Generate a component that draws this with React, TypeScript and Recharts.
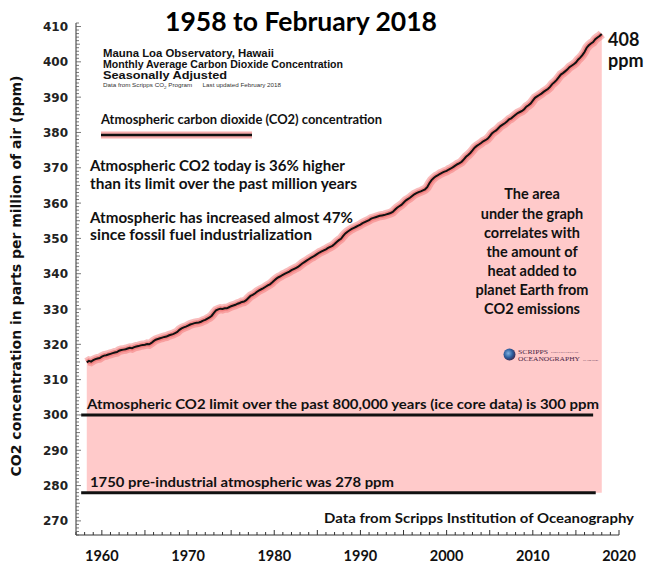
import { ComposedChart, Area, Line, XAxis, YAxis, ReferenceLine } from "recharts";

// Mauna Loa CO2, seasonally adjusted in quarter-year steps from 1958.25
const START_YEAR = 1958.25;
const ppm1950s = [
  314.9, 315.3, 315.1,
  315.5, 315.8, 316.0, 316.1,
];
const ppm1960s = [
  316.5, 316.8, 316.9, 317.1, 317.3, 317.5, 317.7, 317.8, 318.2, 318.4, 318.5, 318.6,
  318.8, 319.0, 318.9, 319.2, 319.4, 319.5, 319.7, 319.8, 319.9, 320.1, 320.0, 320.4,
  320.9, 321.3, 321.5, 321.7, 321.9, 322.1, 322.2, 322.5, 322.7, 322.9, 323.2, 323.5,
  324.1, 324.5, 324.8, 325.0,
];
const ppm1970s = [
  325.3, 325.6, 325.8, 326.0, 326.1, 326.2, 326.4, 326.7, 326.9, 327.3, 327.6, 328.1,
  328.9, 329.6, 329.9, 330.1, 330.0, 330.2, 330.2, 330.5, 330.8, 331.0, 331.2, 331.5,
  331.7, 332.0, 332.1, 332.5, 333.1, 333.7, 334.0, 334.4, 334.9, 335.3, 335.6, 335.9,
  336.3, 336.7, 337.0, 337.5,
];
const ppm1980s = [
  338.1, 338.6, 339.0, 339.3, 339.7, 340.0, 340.3, 340.6, 341.0, 341.3, 341.6, 341.9,
  342.4, 342.9, 343.3, 343.7, 344.1, 344.5, 344.8, 345.2, 345.6, 346.0, 346.3, 346.6,
  346.9, 347.3, 347.6, 347.9, 348.4, 349.0, 349.5, 349.9, 350.7, 351.4, 351.9, 352.3,
  352.7, 353.0, 353.3, 353.6,
];
const ppm1990s = [
  353.9, 354.3, 354.6, 354.9, 355.2, 355.6, 355.8, 356.0, 356.2, 356.4, 356.5, 356.6,
  356.8, 357.0, 357.2, 357.5, 358.1, 358.7, 359.1, 359.5, 360.1, 360.7, 361.1, 361.5,
  362.0, 362.5, 362.8, 363.1, 363.3, 363.6, 363.9, 364.5, 365.6, 366.5, 367.1, 367.6,
  367.9, 368.3, 368.6, 368.9,
];
const ppm2000s = [
  369.1, 369.5, 369.8, 370.2, 370.6, 371.0, 371.3, 371.7, 372.4, 373.1, 373.6, 374.2,
  374.9, 375.7, 376.2, 376.6, 377.0, 377.5, 377.8, 378.2, 378.9, 379.7, 380.2, 380.6,
  381.2, 381.8, 382.2, 382.6, 383.1, 383.7, 384.0, 384.5, 385.0, 385.5, 385.8, 386.1,
  386.6, 387.3, 387.7, 388.2,
];
const ppm2010s = [
  389.0, 389.8, 390.2, 390.6, 391.0, 391.5, 391.9, 392.3, 392.9, 393.7, 394.2, 394.8,
  395.6, 396.4, 396.8, 397.3, 397.8, 398.5, 398.9, 399.3, 399.8, 400.6, 401.2, 401.9,
  402.8, 404.0, 404.7, 405.2, 405.6, 406.4, 406.9, 407.3,
  407.9,
];

const co2 = [...ppm1950s, ...ppm1960s, ...ppm1970s, ...ppm1980s, ...ppm1990s, ...ppm2000s, ...ppm2010s];
const data = co2.map((ppm, i) => ({ year: START_YEAR + i / 4, ppm }));

const ICE_CORE_LIMIT = 300;
const PRE_INDUSTRIAL = 278;

const yearTicks = Array.from({ length: 64 }, (_, i) => 1957 + i);
const ppmTicks = Array.from({ length: 146 }, (_, i) => 266 + i);

const calibri = "Lato, 'Open Sans', sans-serif";
const arial = "'Liberation Sans', Arial, sans-serif";
const pre = { whiteSpace: "pre" as const };

const XTick = ({ x, y, payload }: any) => {
  const v = payload.value;
  const len = v % 5 === 0 ? 5 : 3;
  return (
    <g>
      <line x1={x} x2={x} y1={y} y2={y - len} stroke="#333" strokeWidth={1} />
      {v % 10 === 0 && (
        <text x={x} y={y + 26} textAnchor="middle" fontFamily={calibri} fontWeight={700} fontSize={14.5} fill="#111">
          {v}
        </text>
      )}
    </g>
  );
};

const YTick = ({ x, y, payload }: any) => {
  const v = payload.value;
  const len = v % 10 === 0 ? 5 : v % 5 === 0 ? 4 : 3;
  return (
    <g>
      <line x1={x} x2={x + len} y1={y} y2={y} stroke="#555" strokeWidth={0.8} />
      {v % 10 === 0 && (
        <text x={x - 8} y={y + 4.5} textAnchor="end" fontFamily="'DejaVu Sans', sans-serif" fontWeight={700} fontSize={12} fill="#222">
          {v}
        </text>
      )}
    </g>
  );
};

const Notes = () => (
  <svg width={649} height={565} style={{ position: "absolute", left: 0, top: 0, pointerEvents: "none" }}>
    <text x={301} y={31} textAnchor="middle" fontFamily={calibri} fontWeight={700} fontSize={27} textLength={272} lengthAdjust="spacingAndGlyphs" fill="#000">
      1958 to February 2018
    </text>

    <g fontFamily={arial} fontWeight={700} fontSize={10.5} fill="#111">
      <text x={103} y={57} textLength={171} lengthAdjust="spacingAndGlyphs">Mauna Loa Observatory, Hawaii</text>
      <text x={103} y={67.5} textLength={240} lengthAdjust="spacingAndGlyphs">Monthly Average Carbon Dioxide Concentration</text>
      <text x={103} y={79} textLength={124} lengthAdjust="spacingAndGlyphs">Seasonally Adjusted</text>
    </g>
    <text x={103} y={87} fontFamily={arial} fontSize={5.5} fill="#333" style={pre} textLength={178} lengthAdjust="spacingAndGlyphs">
      Data from Scripps CO<tspan fontSize={4} dy={1.5}>2</tspan><tspan dy={-1.5}> Program      Last updated February 2018</tspan>
    </text>

    <text x={101} y={124} fontFamily={calibri} fontWeight={700} fontSize={13.5} textLength={281} lengthAdjust="spacingAndGlyphs" fill="#111">
      Atmospheric carbon dioxide (CO2) concentration
    </text>
    <line x1={101} x2={252} y1={135} y2={135} stroke="#f06a6a" strokeOpacity={0.55} strokeWidth={7} />
    <line x1={101} x2={252} y1={135} y2={135} stroke="#111" strokeWidth={2.5} />

    <g fontFamily={calibri} fontWeight={700} fontSize={15} fill="#111" style={pre}>
      <text x={90} y={171} textLength={255} lengthAdjust="spacingAndGlyphs">Atmospheric CO2 today is  36% higher</text>
      <text x={90} y={189} textLength={267} lengthAdjust="spacingAndGlyphs">than its limit over the past million years</text>
      <text x={90} y={223} textLength={263} lengthAdjust="spacingAndGlyphs">Atmospheric has increased almost 47%</text>
      <text x={90} y={240} textLength={222} lengthAdjust="spacingAndGlyphs">since fossil fuel   industrialization</text>
    </g>

    <g fontFamily={calibri} fontWeight={700} fontSize={14.5} fill="#111" textAnchor="middle">
      <text x={532} y={199}>The area</text>
      <text x={532} y={218.5}>under the graph</text>
      <text x={532} y={237.5}>correlates with</text>
      <text x={532} y={257}>the amount of</text>
      <text x={532} y={276}>heat added to</text>
      <text x={532} y={295}>planet Earth from</text>
      <text x={532} y={314}>CO2 emissions</text>
    </g>

    <g fontFamily={calibri} fontWeight={700} fontSize={18} fill="#111">
      <text x={608} y={46}>408</text>
      <text x={608} y={67}>ppm</text>
    </g>

    <text x={87} y={409} fontFamily={calibri} fontWeight={700} fontSize={14} textLength={512} lengthAdjust="spacingAndGlyphs" fill="#111">
      Atmospheric CO2 limit over the past 800,000 years (ice core data) is 300 ppm
    </text>
    <text x={90} y={487} fontFamily={calibri} fontWeight={700} fontSize={14} textLength={304} lengthAdjust="spacingAndGlyphs" fill="#111">
      1750 pre-industrial atmospheric was 278 ppm
    </text>
    <text x={634} y={523} textAnchor="end" fontFamily={calibri} fontWeight={700} fontSize={13.5} textLength={310} lengthAdjust="spacingAndGlyphs" fill="#111">
      Data from Scripps Institution of Oceanography
    </text>

    <text transform="translate(21 276) rotate(-90)" textAnchor="middle" fontFamily="'DejaVu Sans', sans-serif" fontWeight={700} fontSize={14} fill="#111">
      CO2 concentration in parts per million of air (ppm)
    </text>

    {/* Scripps logo */}
    <defs>
      <radialGradient id="globe" cx="40%" cy="40%" r="60%">
        <stop offset="0%" stopColor="#7fb0e0" />
        <stop offset="60%" stopColor="#2d5e9e" />
        <stop offset="100%" stopColor="#3a2f5a" />
      </radialGradient>
    </defs>
    <circle cx={509.5} cy={354.5} r={6} fill="url(#globe)" />
    <g fontFamily="'Liberation Serif', serif" fill="#4a2646">
      <text x={518} y={353.5} fontSize={7} textLength={30} lengthAdjust="spacingAndGlyphs">SCRIPPS</text>
      <text x={551} y={352.5} fontSize={2.5} textLength={28} lengthAdjust="spacingAndGlyphs">INSTITUTION OF</text>
      <text x={518} y={361} fontSize={7} textLength={62} lengthAdjust="spacingAndGlyphs">OCEANOGRAPHY</text>
      <text x={583} y={360.5} fontSize={2.2} textLength={15} lengthAdjust="spacingAndGlyphs">UC San Diego</text>
    </g>
  </svg>
);

export default function App() {
  return (
    <div style={{ position: "absolute", left: 0, top: 0, width: 649, height: 565, background: "#fff" }}>
      <ComposedChart width={649} height={565} data={data} margin={{ top: 23, right: 30, bottom: 0, left: 16 }}>
        <XAxis
          dataKey="year"
          type="number"
          domain={[1957, 2020]}
          ticks={yearTicks}
          interval={0}
          tickSize={0}
          tickMargin={0}
          height={30}
          axisLine={{ stroke: "#333" }}
          tickLine={false}
          tick={<XTick />}
        />
        <YAxis
          type="number"
          domain={[266, 411]}
          ticks={ppmTicks}
          interval={0}
          tickSize={0}
          tickMargin={0}
          width={60}
          axisLine={{ stroke: "#333" }}
          tickLine={false}
          tick={<YTick />}
        />
        <Area
          type="linear"
          dataKey="ppm"
          baseValue={PRE_INDUSTRIAL}
          fill="#ffcaca"
          fillOpacity={1}
          stroke="none"
          isAnimationActive={false}
        />
        <ReferenceLine
          segment={[{ x: 1957.6, y: ICE_CORE_LIMIT }, { x: 2017.0, y: ICE_CORE_LIMIT }]}
          stroke="#111"
          strokeWidth={3}
        />
        <ReferenceLine
          segment={[{ x: 1957.6, y: PRE_INDUSTRIAL }, { x: 2017.3, y: PRE_INDUSTRIAL }]}
          stroke="#111"
          strokeWidth={3}
        />
        <Line type="linear" dataKey="ppm" stroke="#f06a6a" strokeOpacity={0.45} strokeWidth={9} dot={false} isAnimationActive={false} />
        <Line type="linear" dataKey="ppm" stroke="#f06a6a" strokeOpacity={0.6} strokeWidth={5} dot={false} isAnimationActive={false} />
        <Line type="linear" dataKey="ppm" stroke="#111" strokeWidth={2} dot={false} isAnimationActive={false} />
      </ComposedChart>
      <Notes />
    </div>
  );
}
